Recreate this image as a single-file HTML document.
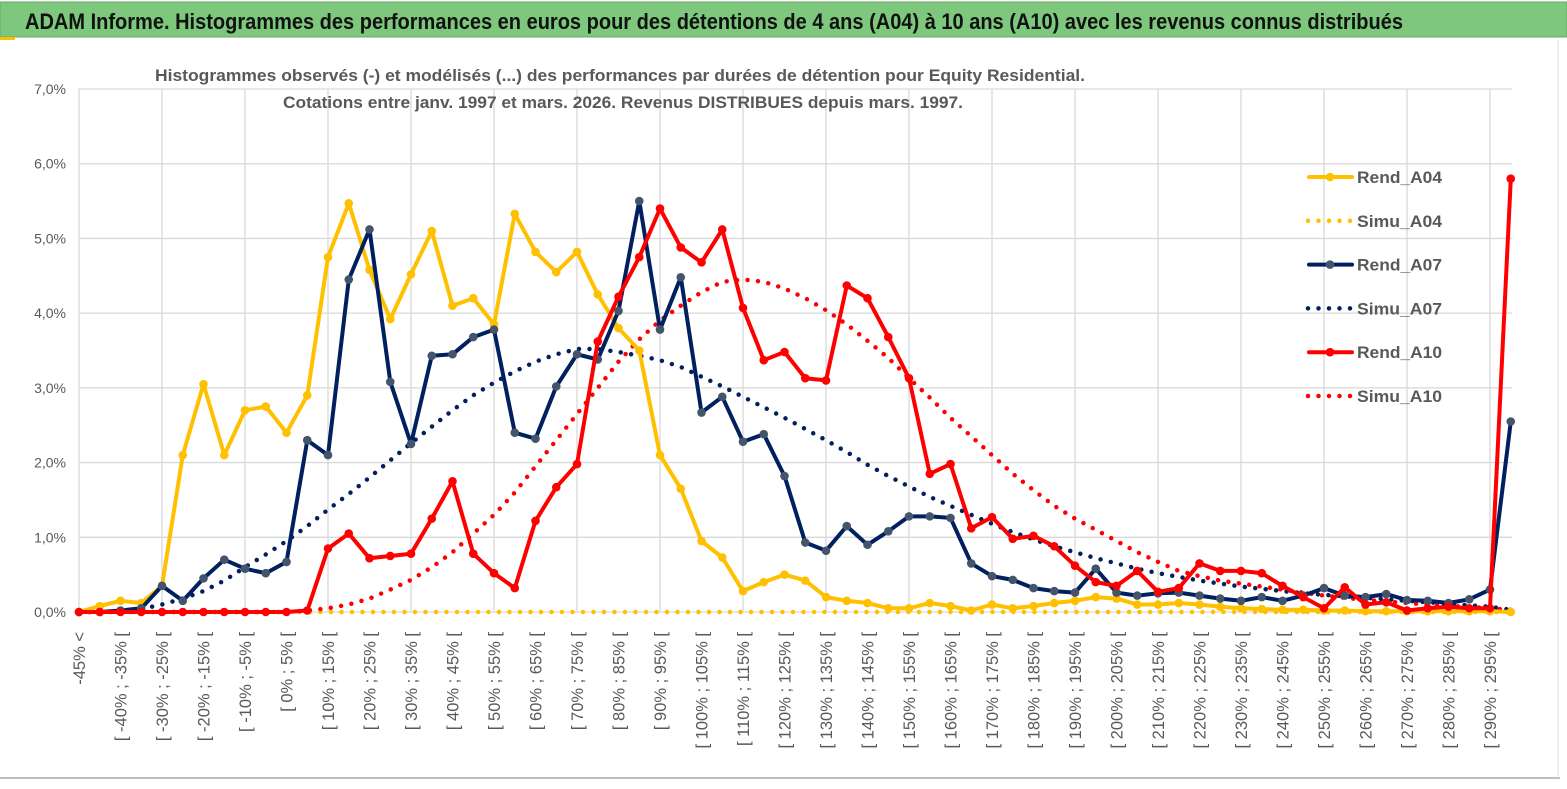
<!DOCTYPE html>
<html><head><meta charset="utf-8"><style>
html,body{margin:0;padding:0;background:#fff;}
svg{display:block;font-family:"Liberation Sans",sans-serif;}
</style></head><body>
<svg id="chart" width="1567" height="789" viewBox="0 0 1567 789" xmlns="http://www.w3.org/2000/svg">
<rect x="0" y="0" width="1567" height="789" fill="#fff"/>
<rect x="0" y="2" width="1567" height="35" fill="#7dc87d" stroke="#6aa56a"/>
<rect x="0" y="37" width="15" height="3" fill="#ffc000"/>
<text x="25" y="29" font-size="22" font-weight="bold" fill="#111" textLength="1378" lengthAdjust="spacingAndGlyphs">ADAM Informe. Histogrammes des performances en euros pour des détentions de 4 ans (A04) à 10 ans (A10) avec les revenus connus distribués</text>
<line x1="0" y1="778" x2="1560" y2="778" stroke="#bfbfbf" stroke-width="2"/>
<line x1="1558" y1="40" x2="1558" y2="778" stroke="#e0e0e0" stroke-width="1"/>
<g id="grid"></g>
<g id="ylabels"></g>
<g id="xlabels"></g>
<g id="series"></g>
<text x="155" y="81" font-size="17" font-weight="bold" fill="#595959" textLength="930" lengthAdjust="spacingAndGlyphs">Histogrammes observés (-)  et modélisés (...) des performances par durées de détention pour Equity Residential.</text>
<text x="283" y="108" font-size="17" font-weight="bold" fill="#595959" textLength="680" lengthAdjust="spacingAndGlyphs">Cotations entre janv. 1997 et mars. 2026.  Revenus DISTRIBUES depuis mars. 1997.</text>
<g id="legend"></g>
</svg>
<script>
const rendA04=[0,0.08,0.15,0.12,0.35,2.1,3.05,2.1,2.7,2.75,2.4,2.9,4.75,5.47,4.58,3.92,4.52,5.1,4.1,4.2,3.85,5.33,4.82,4.55,4.82,4.25,3.8,3.5,2.1,1.65,0.95,0.73,0.28,0.4,0.5,0.42,0.2,0.15,0.12,0.05,0.05,0.12,0.08,0.02,0.1,0.05,0.08,0.12,0.15,0.2,0.18,0.1,0.1,0.12,0.1,0.07,0.05,0.04,0.03,0.03,0.02,0.02,0.01,0.01,0.01,0.01,0.01,0.01,0.01,0];
const simuA04=[0,0,0,0,0,0,0,0,0,0,0,0,0,0,0,0,0,0,0,0,0,0,0,0,0,0,0,0,0,0,0,0,0,0,0,0,0,0,0,0,0,0,0,0,0,0,0,0,0,0,0,0,0,0,0,0,0,0,0,0,0,0,0,0,0,0,0,0,0,0];
const rendA07=[0,0,0.02,0.05,0.35,0.15,0.45,0.7,0.58,0.52,0.67,2.3,2.1,4.45,5.12,3.08,2.25,3.43,3.45,3.68,3.78,2.4,2.32,3.02,3.45,3.38,4.03,5.5,3.78,4.48,2.67,2.88,2.28,2.38,1.82,0.93,0.82,1.15,0.9,1.08,1.28,1.28,1.26,0.65,0.48,0.43,0.32,0.28,0.26,0.58,0.26,0.22,0.25,0.26,0.22,0.18,0.15,0.2,0.15,0.22,0.32,0.22,0.2,0.24,0.16,0.15,0.12,0.17,0.3,2.55];
const simuA07=[0,0,0.01,0.04,0.1,0.18,0.28,0.42,0.6,0.77,0.95,1.15,1.37,1.58,1.8,2.03,2.26,2.48,2.7,2.9,3.07,3.22,3.35,3.45,3.52,3.52,3.48,3.43,3.37,3.28,3.15,3.02,2.88,2.74,2.6,2.45,2.3,2.14,1.97,1.82,1.68,1.54,1.42,1.3,1.18,1.07,0.97,0.88,0.8,0.72,0.65,0.58,0.52,0.47,0.42,0.38,0.34,0.31,0.28,0.25,0.23,0.21,0.19,0.17,0.15,0.13,0.11,0.09,0.07,0.03];
const rendA10=[0,0,0,0,0,0,0,0,0,0,0,0.02,0.85,1.05,0.72,0.75,0.78,1.25,1.75,0.78,0.52,0.32,1.22,1.67,1.98,3.62,4.22,4.75,5.4,4.88,4.68,5.12,4.07,3.37,3.48,3.13,3.1,4.37,4.2,3.68,3.13,1.85,1.98,1.12,1.27,0.98,1.02,0.88,0.62,0.4,0.35,0.55,0.27,0.32,0.65,0.55,0.55,0.52,0.35,0.2,0.05,0.33,0.1,0.13,0.02,0.05,0.07,0.05,0.05,5.8];
const simuA10=[0,0,0,0,0,0,0,0,0,0,0,0.02,0.05,0.1,0.18,0.3,0.43,0.6,0.8,1.05,1.3,1.6,1.95,2.3,2.65,3.0,3.35,3.65,3.9,4.1,4.28,4.42,4.45,4.42,4.33,4.2,4.04,3.85,3.63,3.4,3.13,2.87,2.6,2.35,2.1,1.85,1.63,1.42,1.25,1.1,0.95,0.8,0.67,0.55,0.48,0.42,0.38,0.34,0.3,0.26,0.22,0.19,0.16,0.14,0.12,0.1,0.08,0.07,0.05,0.03];
const yTicks=["0,0%","1,0%","2,0%","3,0%","4,0%","5,0%","6,0%","7,0%"];
const categories=[];
categories.push("-45% <");
for(let i=1;i<70;i++){const lo=-50+5*i;categories.push("[ "+lo+"% ; "+(lo+5)+"% [");}

const NS="http://www.w3.org/2000/svg";
const X0=79,DX=20.75,Y0=612,PY=74.71;
const xs=i=>X0+i*DX;
const ys=v=>Y0-v*PY;
function mk(tag,attrs,parent){const e=document.createElementNS(NS,tag);for(const k in attrs)e.setAttribute(k,attrs[k]);parent.appendChild(e);return e;}

const grid=document.getElementById('grid');
for(let t=0;t<yTicks.length;t++){
  const l=mk('line',{x1:X0,x2:1512,y1:ys(t),y2:ys(t),stroke:'#d9d9d9','stroke-width':1.3},grid);
  
  
}
for(let i=0;i<categories.length;i+=4){
  const l=mk('line',{x1:xs(i),x2:xs(i),y1:ys(7),y2:ys(0),stroke:'#d9d9d9','stroke-width':1.3},grid);
  
  
}
const yl=document.getElementById('ylabels');
yTicks.forEach((t,k)=>{
  const e=mk('text',{x:66,y:ys(k)+5,'text-anchor':'end','font-size':14,fill:'#595959'},yl);
  e.textContent=t;
  
  
});
const xl=document.getElementById('xlabels');
categories.forEach((c,i)=>{
  if(i%2)return;
  const x=xs(i)+6,y=632;
  const e=mk('text',{x:x,y:y,'text-anchor':'end','font-size':16.5,fill:'#595959',transform:`rotate(-90 ${x} ${y})`},xl);
  e.textContent=c;
  
  
});

const S=document.getElementById('series');
function pts(arr){return arr.map((v,i)=>xs(i).toFixed(1)+','+ys(v).toFixed(1)).join(' ');}
function dotted(arr,color,name){
  const p=mk('polyline',{points:pts(arr),fill:'none',stroke:color,'stroke-width':4.5,'stroke-linecap':'round','stroke-dasharray':'0 10.5'},S);
  
  
}
function solid(arr,color,mark,name){
  const g=mk('g',{},S);
  
  
  mk('polyline',{points:pts(arr),fill:'none',stroke:color,'stroke-width':4,'stroke-linejoin':'round'},g);
  arr.forEach((v,i)=>{
    const c=mk('circle',{cx:xs(i),cy:ys(v),r:4.3,fill:mark},g);
    
    
  });
}
dotted(simuA04,'#ffc000','simu-a04-line');
dotted(simuA07,'#002060','simu-a07-line');
dotted(simuA10,'#ff0000','simu-a10-line');
solid(rendA04,'#ffc000','#ffc000','rend-a04-line');
solid(rendA07,'#002060','#44546a','rend-a07-line');
solid(rendA10,'#ff0000','#ff0000','rend-a10-line');

const L=document.getElementById('legend');
const leg=[["Rend_A04","#ffc000","#ffc000",0],["Simu_A04","#ffc000",null,1],["Rend_A07","#002060","#44546a",0],["Simu_A07","#002060",null,1],["Rend_A10","#ff0000","#ff0000",0],["Simu_A10","#ff0000",null,1]];
leg.forEach((d,k)=>{
  const y=177+k*43.8;
  const g=mk('g',{},L);
  
  
  if(d[3]){
    mk('line',{x1:1308,x2:1352,y1:y,y2:y,stroke:d[1],'stroke-width':4.5,'stroke-linecap':'round','stroke-dasharray':'0 10.5'},g);
  }else{
    mk('line',{x1:1309,x2:1352,y1:y,y2:y,stroke:d[1],'stroke-width':4,'stroke-linecap':'round'},g);
    mk('circle',{cx:1330,cy:y,r:4.3,fill:d[2]},g);
  }
  const t=mk('text',{x:1357,y:y+6,'font-size':17,'font-weight':'bold',fill:'#595959',textLength:85,lengthAdjust:'spacingAndGlyphs'},g);
  t.textContent=d[0];
});
</script>
</body></html>
